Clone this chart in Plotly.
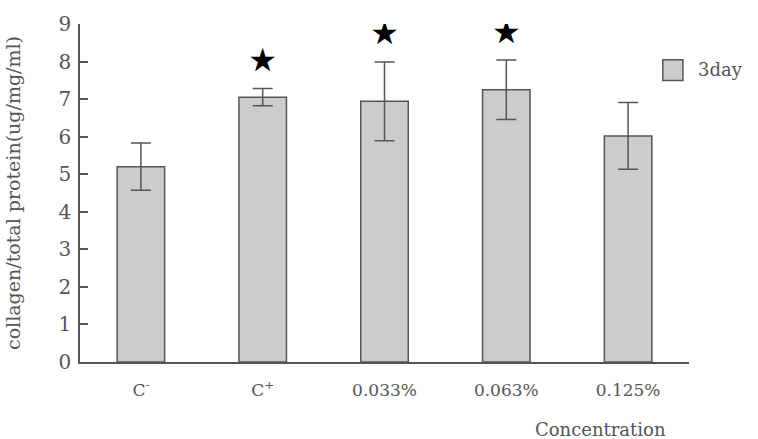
import plotly.graph_objects as go

categories = ["C<sup>-</sup>", "C<sup>+</sup>", "0.033%", "0.063%", "0.125%"]
values = [5.2, 7.05, 6.94, 7.25, 6.02]
errors = [0.63, 0.23, 1.05, 0.79, 0.89]
significant = [False, True, True, True, False]
series_name = "3day"
y_ticks = list(range(0, 10))

FONT = "DejaVu Serif"
GRAY = "#555555"
FILL = "#cccccc"

fig = go.Figure()
fig.add_trace(go.Bar(
    x=categories, y=values, name=series_name, showlegend=False,
    marker=dict(color=FILL, line=dict(color=GRAY, width=1.5)),
    error_y=dict(type="data", array=errors, visible=True, color=GRAY, thickness=1.5, width=10),
    width=0.39,
))

star_x = [c for c, s in zip(categories, significant) if s]
star_y = [v + e + 0.68 for v, e, s in zip(values, errors, significant) if s]
fig.add_trace(go.Scatter(
    x=star_x, y=star_y, mode="text", text=["★"] * len(star_x),
    textfont=dict(size=32, color="black", family="DejaVu Sans"), showlegend=False, hoverinfo="skip",
))

fig.update_layout(
    width=758, height=439,
    margin=dict(l=79, r=69, t=21, b=77),
    plot_bgcolor="white", paper_bgcolor="white",
    font=dict(family=FONT, color=GRAY, size=18),
    showlegend=False,
    xaxis=dict(showline=True, linecolor=GRAY, linewidth=1.5, ticks="", showgrid=False,
               tickfont=dict(size=17), range=[-0.5, 4.5], ticklabelstandoff=12),
    yaxis=dict(range=[0, 9], tickvals=y_ticks, showline=True, linecolor=GRAY, linewidth=1.5,
               ticks="inside", ticklen=8, tickcolor=GRAY, tickwidth=1.5, showgrid=False, zeroline=False,
               tickfont=dict(size=20), ticklabelstandoff=3,
               title=dict(text="collagen/total protein(ug/mg/ml)", font=dict(size=19), standoff=33)),
    shapes=[dict(type="rect", xref="paper", yref="paper", x0=0.957, x1=0.990, y0=0.833, y1=0.894,
                 fillcolor=FILL, line=dict(color=GRAY, width=1.5))],
    annotations=[
        dict(text="Concentration", xref="paper", yref="paper", x=0.855, y=-0.2,
             xanchor="center", yanchor="middle", showarrow=False, font=dict(size=18)),
        dict(text=series_name, xref="paper", yref="paper", x=1.011, y=0.864,
             xanchor="left", yanchor="middle", showarrow=False, font=dict(size=18)),
    ],
)

fig.write_html("out.html")
